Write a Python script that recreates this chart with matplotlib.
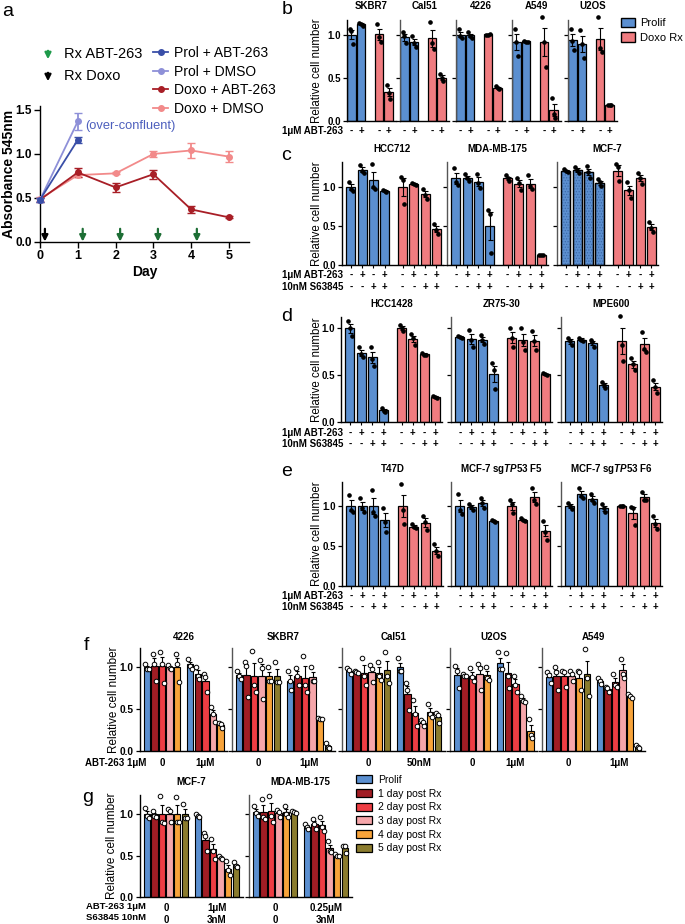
import numpy as np
import matplotlib
matplotlib.use("Agg")
import matplotlib.pyplot as plt
from matplotlib.patches import Patch
from matplotlib.lines import Line2D
from matplotlib.transforms import blended_transform_factory

plt.rcParams['font.family'] = ['Liberation Sans', 'DejaVu Sans']
plt.rcParams['mathtext.fontset'] = 'custom'
plt.rcParams['mathtext.it'] = 'Liberation Sans:italic:bold'
plt.rcParams['mathtext.rm'] = 'Liberation Sans:bold'
plt.rcParams['axes.linewidth'] = 1.0
plt.rcParams['hatch.linewidth'] = 0.6

# ---------------- data ----------------
# panel a : absorbance time course
a_days = [0, 1, 2, 3, 4, 5]
prol_days = [0, 1]
prol_abt = [0.48, 1.16]
prol_abt_err = [0.02, 0.03]
prol_dmso = [0.48, 1.37]
prol_dmso_err = [0.02, 0.10]
doxo_abt = [0.48, 0.79, 0.62, 0.77, 0.37, 0.28]
doxo_abt_err = [0.02, 0.05, 0.05, 0.05, 0.04, 0.01]
doxo_dmso = [0.49, 0.76, 0.78, 1.00, 1.04, 0.97]
doxo_dmso_err = [0.02, 0.02, 0.01, 0.03, 0.09, 0.06]
abt_rx_days = [1.13, 2.12, 3.12, 4.15]
doxo_rx_days = [0.13]

# panel b : replicates, [prolif -, prolif +] and [doxo -, doxo +]
b_lines = ["SKBR7", "Cal51", "4226", "A549", "U2OS"]
b_prolif = [
    [[1.07, 1.04, 0.89], [1.14, 1.12, 1.10]],
    [[1.03, 0.98, 0.90], [0.98, 0.90, 0.86]],
    [[1.06, 0.98, 0.96], [1.03, 0.99, 0.96]],
    [[1.07, 0.91, 0.75], [0.93, 0.92, 0.92]],
    [[1.07, 0.93, 0.82], [1.05, 0.89, 0.73]],
]
b_doxo = [
    [[1.12, 0.97, 0.92], [0.42, 0.33, 0.26]],
    [[1.15, 0.90, 0.83], [0.55, 0.50, 0.46]],
    [[1.00, 1.00, 1.01], [0.40, 0.38, 0.37]],
    [[1.20, 0.91, 0.63], [0.27, 0.08, 0.04]],
    [[1.20, 0.85, 0.80], [0.19, 0.18, 0.18]],
]
b_abt_signs = ["-", "+", "-", "+"]

# panels c-e : 4 conditions (ABT-263 / S63845) for prolif and doxo
combo_abt_signs = ["-", "+", "-", "+"] * 2
combo_s63_signs = ["-", "-", "+", "+"] * 2

c_lines = ["HCC712", "MDA-MB-175", "MCF-7"]
c_prolif = [
    [[1.07, 0.98, 0.95], [1.28, 1.21, 1.18], [1.30, 1.00, 0.97], [0.96, 0.95, 0.94]],
    [[1.24, 1.06, 1.03], [1.16, 1.12, 1.08], [1.17, 1.05, 0.99], [0.70, 0.65, 0.15]],
    [[1.23, 1.21, 1.19], [1.26, 1.22, 1.18], [1.27, 1.19, 1.12], [1.10, 1.06, 1.01]],
]
c_doxo = [
    [[1.13, 1.09, 0.78], [1.05, 1.04, 1.02], [0.98, 0.90, 0.85], [0.53, 0.45, 0.40]],
    [[1.15, 1.11, 1.08], [1.11, 1.05, 0.96], [1.15, 1.01, 0.97], [0.13, 0.13, 0.13]],
    [[1.30, 1.25, 1.08], [1.06, 0.96, 0.86], [1.18, 1.12, 1.04], [0.55, 0.48, 0.42]],
]

d_lines = ["HCC1428", "ZR75-30", "MPE600"]
d_prolif = [
    [[1.08, 1.00, 0.92], [0.80, 0.73, 0.69], [0.80, 0.67, 0.60], [0.15, 0.12, 0.11]],
    [[0.92, 0.91, 0.90], [0.98, 0.87, 0.80], [0.93, 0.88, 0.83], [0.63, 0.55, 0.35]],
    [[0.90, 0.86, 0.82], [0.90, 0.88, 0.86], [0.87, 0.85, 0.80], [0.43, 0.39, 0.36]],
]
d_doxo = [
    [[1.04, 1.00, 0.97], [0.94, 0.90, 0.82], [0.74, 0.72, 0.71], [0.28, 0.27, 0.26]],
    [[1.00, 0.90, 0.80], [1.00, 0.85, 0.77], [0.97, 0.86, 0.77], [0.52, 0.51, 0.50]],
    [[1.13, 0.82, 0.65], [0.68, 0.62, 0.55], [0.96, 0.78, 0.75], [0.45, 0.37, 0.31]],
]

e_lines = ["T47D", "MCF-7 sg$\\mathit{TP53}$ F5", "MCF-7 sg$\\mathit{TP53}$ F6"]
e_prolif = [
    [[1.14, 0.95, 0.92], [1.10, 0.97, 0.93], [1.20, 0.93, 0.87], [0.98, 0.80, 0.68]],
    [[1.15, 0.95, 0.90], [1.03, 0.99, 0.95], [1.10, 1.04, 0.98], [0.82, 0.81, 0.80]],
    [[1.04, 1.00, 0.96], [1.23, 1.12, 1.10], [1.15, 1.08, 1.04], [1.02, 0.97, 0.92]],
]
e_doxo = [
    [[1.27, 0.95, 0.78], [0.77, 0.74, 0.72], [0.88, 0.80, 0.70], [0.52, 0.44, 0.37]],
    [[1.07, 1.02, 0.91], [0.85, 0.83, 0.81], [1.23, 1.08, 1.02], [0.81, 0.68, 0.58]],
    [[1.00, 1.00, 1.00], [0.99, 0.98, 0.76], [1.18, 1.08, 1.07], [0.88, 0.78, 0.71]],
]

# panels f, g : days post Rx
conditions = ["Prolif", "1 day post Rx", "2 day post Rx", "3 day post Rx",
              "4 day post Rx", "5 day post Rx"]
cond_colors = ["#5b8fd0", "#a11d24", "#ee3d43", "#f6a6aa", "#f7a33a", "#8b7c2e"]

f_lines = ["4226", "SKBR7", "Cal51", "U2OS", "A549"]
f_doses = [["0", "1μM"], ["0", "1μM"], ["0", "50nM"], ["0", "1μM"], ["0", "1μM"]]
f_untreated = [
    [[1.04, 0.98, 0.98], [1.16, 1.04, 0.83], [1.18, 1.04, 0.81], [1.03, 0.99, 0.98], [1.16, 1.04, 0.82]],
    [[0.95, 0.90, 0.86], [1.06, 1.01, 0.64], [1.20, 0.79, 0.70], [1.09, 0.99, 0.62], [1.00, 0.84, 0.83], [1.06, 0.82, 0.82]],
    [[0.99, 0.97, 0.92], [0.96, 0.94, 0.93], [1.11, 0.90, 0.79], [1.03, 0.98, 0.82], [1.06, 0.90, 0.85], [1.18, 0.90, 0.81]],
    [[1.02, 0.95, 0.75], [0.92, 0.90, 0.89], [0.99, 0.88, 0.83], [1.04, 0.99, 0.73], [1.00, 0.87, 0.85]],
    [[0.94, 0.91, 0.81], [1.00, 0.94, 0.73], [0.96, 0.94, 0.77], [0.95, 0.92, 0.83], [0.96, 0.94, 0.73], [1.22, 0.87, 0.66]],
]
f_treated = [
    [[1.10, 1.02, 0.98], [1.00, 0.90, 0.86], [0.92, 0.88, 0.71], [0.52, 0.44, 0.35], [0.34, 0.32, 0.28]],
    [[0.95, 0.84, 0.73], [0.99, 0.90, 0.79], [1.14, 0.79, 0.70], [1.00, 0.83, 0.83], [0.39, 0.38, 0.38], [0.09, 0.05, 0.04]],
    [[1.11, 0.95, 0.95], [0.81, 0.73, 0.49], [0.61, 0.44, 0.30], [0.37, 0.35, 0.30], [0.56, 0.44, 0.41], [0.45, 0.43, 0.33]],
    [[1.18, 0.98, 0.98], [1.17, 0.89, 0.75], [0.90, 0.79, 0.70], [0.66, 0.60, 0.58], [0.38, 0.19, 0.16]],
    [[0.87, 0.84, 0.80], [0.77, 0.75, 0.71], [0.92, 0.79, 0.77], [1.10, 0.92, 0.87], [0.68, 0.66, 0.63], [0.07, 0.05, 0.04]],
]

g_lines = ["MCF-7", "MDA-MB-175"]
g_abt_doses = [["0", "1μM"], ["0", "0.25μM"]]
g_s63_doses = [["0", "3nM"], ["0", "3nM"]]
g_untreated = [
    [[1.07, 0.98, 0.95], [1.04, 0.98, 0.97], [1.22, 0.90, 0.89], [1.06, 1.04, 0.90], [1.21, 0.91, 0.90], [1.12, 0.95, 0.95]],
    [[1.10, 1.01, 0.98], [1.18, 0.96, 0.94], [1.22, 0.98, 0.90], [1.05, 1.02, 0.97], [1.10, 1.00, 0.97], [1.04, 1.02, 1.01]],
]
g_treated = [
    [[1.00, 0.98, 0.96], [0.77, 0.74, 0.55], [0.70, 0.56, 0.46], [0.49, 0.47, 0.46], [0.43, 0.32, 0.27], [0.42, 0.37, 0.36]],
    [[0.88, 0.85, 0.82], [0.94, 0.88, 0.82], [0.96, 0.85, 0.80], [0.67, 0.56, 0.54], [0.52, 0.50, 0.49], [0.62, 0.62, 0.53]],
]

# ---------------- figure ----------------
W, H = 685, 924
fig = plt.figure(figsize=(W / 100, H / 100), dpi=100)
BLUE = "#5b8fd0"
RED = "#f07c80"


def px_axes(left, top, width, height):
    return fig.add_axes([left / W, 1 - (top + height) / H, width / W, height / H])


def fy(y):
    return 1 - y / H


def style(ax, first, ylim, yticks=(0, 0.5, 1.0), fs=6.5):
    ax.spines['top'].set_visible(False)
    ax.spines['right'].set_visible(False)
    ax.set_ylim(*ylim)
    ax.set_yticks(yticks)
    ax.tick_params(axis='y', direction='out', length=3, width=0.9, pad=1.5)
    if first:
        ax.set_yticklabels([f"{t:.1f}" for t in yticks], fontsize=fs, fontweight='bold')
    else:
        ax.set_yticklabels([])
        ax.spines['left'].set_color('#555555')


def panel_label(x, y, s):
    fig.text(x / W, fy(y), s, fontsize=14, va='center', ha='left')


def sem(reps):
    reps = np.asarray(reps)
    return reps.mean(1), reps.std(1, ddof=1) / np.sqrt(reps.shape[1])


jit = np.array([-0.2, 0.0, 0.2])


def bars_with_dots(ax, pos, reps, colors, width, hatch_mask=None):
    m, s = sem(reps)
    ax.bar(pos, m, width, color=colors, edgecolor='k', linewidth=0.9, zorder=1)
    if hatch_mask is not None:
        for p, mm, h in zip(pos, m, hatch_mask):
            if h:
                ax.bar(p, mm, width, facecolor='none', edgecolor='#3d6aa8',
                       hatch='......', linewidth=0, zorder=1.5)
                ax.bar(p, mm, width, facecolor='none', edgecolor='k',
                       linewidth=0.9, zorder=1.6)
    ax.errorbar(pos, m, yerr=s, fmt='none', ecolor='k', elinewidth=0.8,
                capsize=1.8, capthick=0.8, zorder=3)
    xs = (np.asarray(pos)[:, None] + jit[None, :] * width).ravel()
    ax.plot(xs, np.asarray(reps).ravel(), 'o', ms=2.3, color='k', zorder=4,
            clip_on=False)


def sign_row(ax, pos, signs, y):
    tr = blended_transform_factory(ax.transData, fig.transFigure)
    for p, s in zip(pos, signs):
        ax.text(p, fy(y), s, transform=tr, ha='center', va='center',
                fontsize=7, fontweight='bold')


# ---------- panel a ----------
panel_label(2, 12, "a")
ax = px_axes(40, 106, 209, 136)
ax.spines['top'].set_visible(False)
ax.spines['right'].set_visible(False)
ax.errorbar(a_days, doxo_dmso, yerr=doxo_dmso_err, color="#f28a8a", marker='o',
            ms=4, lw=1.3, capsize=3, capthick=1, clip_on=False, zorder=3)
ax.errorbar(a_days, doxo_abt, yerr=doxo_abt_err, color="#a81e26", marker='o',
            ms=4, lw=1.3, capsize=3, capthick=1, clip_on=False, zorder=3)
ax.errorbar(prol_days, prol_dmso, yerr=prol_dmso_err, color="#8e90d8", marker='o',
            ms=4, lw=1.3, capsize=3, capthick=1, clip_on=False, zorder=4)
ax.errorbar(prol_days, prol_abt, yerr=prol_abt_err, color="#3a4fa8", marker='o',
            ms=4, lw=1.3, capsize=3, capthick=1, clip_on=False, zorder=4)
for d in abt_rx_days:
    ax.annotate('', xy=(d, 0.005), xytext=(d, 0.15),
                arrowprops=dict(arrowstyle='-|>', color='#1d6e35', lw=1.6,
                                mutation_scale=9, shrinkA=0, shrinkB=0))
for d in doxo_rx_days:
    ax.annotate('', xy=(d, 0.005), xytext=(d, 0.15),
                arrowprops=dict(arrowstyle='-|>', color='k', lw=1.6,
                                mutation_scale=9, shrinkA=0, shrinkB=0))
ax.text(1.19, 1.32, "(over-confluent)", color="#4d5fbd", fontsize=9.3,
        va='center', ha='left')
ax.set_xlim(0, 5.53)
ax.set_ylim(0, 1.545)
ax.set_xticks(a_days)
ax.set_xticklabels([str(d) for d in a_days], fontsize=9, fontweight='bold')
ax.set_yticks([0, 0.5, 1.0, 1.5])
ax.set_yticklabels(["0.0", "0.5", "1.0", "1.5"], fontsize=8.5, fontweight='bold')
ax.tick_params(direction='out', length=4, width=1, pad=2)
ax.set_xlabel("Day", fontsize=10, fontweight='bold', labelpad=2)
ax.set_ylabel("Absorbance 545nm", fontsize=10, fontweight='bold')
ax.yaxis.set_label_coords((16 - 40) / 209, 0.5)

# arrow legend
for y0, col, lab in ((48, '#1e9a4a', "Rx ABT-263"), (70, 'k', "Rx Doxo")):
    fig.add_artist(matplotlib.patches.FancyArrowPatch(
        (48 / W, fy(y0)), (48 / W, fy(y0 + 14)), transform=fig.transFigure,
        arrowstyle='-|>', color=col, lw=1.6, mutation_scale=9))
    fig.text(64 / W, fy(y0 + 6), lab, fontsize=10.5, va='center', ha='left')

a_handles = [Line2D([], [], color=c, marker='o', ms=4, lw=1.3)
             for c in ("#3a4fa8", "#8e90d8", "#a81e26", "#f28a8a")]
fig.legend(a_handles, ["Prol + ABT-263", "Prol + DMSO", "Doxo + ABT-263", "Doxo + DMSO"],
           loc='upper left', bbox_to_anchor=(153 / W, fy(46)), frameon=False,
           fontsize=10, handlelength=1.1, handletextpad=0.4, labelspacing=0.33,
           borderpad=0, borderaxespad=0)

# ---------- panel b ----------
panel_label(282, 10, "b")
b_pos = [0, 1, 2.85, 3.85]
b_lefts = [347, 400, 456, 512, 568]
for i, name in enumerate(b_lines):
    ax = px_axes(b_lefts[i], 20, 49, 101)
    reps = b_prolif[i] + b_doxo[i]
    bars_with_dots(ax, b_pos, reps, [BLUE, BLUE, RED, RED], 0.88)
    ax.set_xlim(-0.45, 4.6)
    style(ax, i == 0, (0, 1.17), fs=7)
    ax.set_xticks(b_pos)
    ax.set_xticklabels([])
    ax.tick_params(axis='x', length=0)
    ax.set_title(name, fontsize=7, fontweight='bold', pad=8)
    sign_row(ax, b_pos, b_abt_signs, 131)
    if i == 0:
        ax.set_ylabel("Relative cell number", fontsize=8.3)
        ax.yaxis.set_label_coords((323 - 347) / 49, 0.5)
fig.text(343 / W, fy(131), "1μM ABT-263", fontsize=7, fontweight='bold',
         ha='right', va='center')
fig.legend([Patch(facecolor=BLUE, edgecolor='k', lw=1), Patch(facecolor=RED, edgecolor='k', lw=1)],
           ["Prolif", "Doxo Rx"], loc='upper left', bbox_to_anchor=(621 / W, fy(18)),
           frameon=False, fontsize=8, handlelength=1.3, handleheight=0.9,
           labelspacing=0.35, handletextpad=0.4, borderpad=0, borderaxespad=0)

# ---------- panels c, d, e ----------
combo_pos = [0, 1, 2, 3, 4.6, 5.6, 6.6, 7.6]
combo_colors = [BLUE] * 4 + [RED] * 4


def combo_row(label, label_y, lines, prolif, doxo, lefts, top, height, ylim,
              row1, row2, hatch_idx=None):
    panel_label(281, label_y, label)
    for i, name in enumerate(lines):
        ax = px_axes(lefts[i], top, 101, height)
        mask = [j < 4 and i == hatch_idx for j in range(8)]
        bars_with_dots(ax, combo_pos, prolif[i] + doxo[i], combo_colors, 0.8,
                       hatch_mask=mask if hatch_idx is not None else None)
        ax.set_xlim(-0.8, 8.2)
        style(ax, i == 0, ylim, fs=7)
        ax.set_xticks(combo_pos)
        ax.set_xticklabels([])
        ax.tick_params(axis='x', direction='out', length=2.5, width=0.8)
        ax.set_title(name, fontsize=7, fontweight='bold', pad=7)
        sign_row(ax, combo_pos, combo_abt_signs, row1)
        sign_row(ax, combo_pos, combo_s63_signs, row2)
        if i == 0:
            ax.set_ylabel("Relative cell number", fontsize=8.3)
            ax.yaxis.set_label_coords((323 - lefts[0]) / 101, 0.5)
    fig.text(343 / W, fy(row1), "1μM ABT-263", fontsize=7, fontweight='bold',
             ha='right', va='center')
    fig.text(343 / W, fy(row2), "10nM S63845", fontsize=7, fontweight='bold',
             ha='right', va='center')


combo_row("c", 156, c_lines, c_prolif, c_doxo, [342, 447, 557], 162, 103,
          (0, 1.32), 275, 287, hatch_idx=2)
combo_row("d", 316, d_lines, d_prolif, d_doxo, [341, 451, 561], 317, 105,
          (0, 1.12), 433, 444)
combo_row("e", 471, e_lines, e_prolif, e_doxo, [342, 451, 561], 482, 104,
          (0, 1.3), 596, 607)

# ---------- panels f, g ----------
UNIT = 7.6
ojit = np.array([-0.22, 0.0, 0.22])


def time_panel(ax, zero, treated):
    n = len(zero)
    groups = (np.arange(n), np.arange(n) + n + 0.7)
    for pos, reps in zip(groups, (zero, treated)):
        m, s = sem(reps)
        ax.bar(pos, m, 0.85, color=cond_colors[:n], edgecolor='k', linewidth=0.8, zorder=1)
        ax.errorbar(pos, m, yerr=[np.zeros(n), s], fmt='none', ecolor='k',
                    elinewidth=0.8, capsize=1.6, capthick=0.8, zorder=3)
        xs = (pos[:, None] + ojit[None, :]).ravel()
        ax.plot(xs, np.asarray(reps).ravel(), 'o', ms=3.3, mfc='white', mec='k',
                mew=0.7, zorder=4, clip_on=False)
    ax.set_xlim(-0.9, 2 * n - 0.3 + 0.9)
    return [groups[0].mean(), groups[1].mean()]


panel_label(84, 645, "f")
f_lefts = [140, 232, 342, 450, 542]
for i, name in enumerate(f_lines):
    n = len(f_untreated[i])
    wpx = (2 * n + 1.5) * UNIT
    ax = px_axes(f_lefts[i], 648, wpx, 103)
    centers = time_panel(ax, f_untreated[i], f_treated[i])
    style(ax, i == 0, (0, 1.23), fs=7.3)
    ax.set_xticks(centers)
    ax.set_xticklabels(f_doses[i], fontsize=7, fontweight='bold')
    ax.tick_params(axis='x', length=0, pad=5)
    ax.set_title(name, fontsize=7, fontweight='bold', pad=6)
    if i == 0:
        ax.set_ylabel("Relative cell number", fontsize=8.5)
        ax.yaxis.set_label_coords((120 - 140) / wpx, 0.5)
fig.text(146 / W, fy(763), "ABT-263 1μM", fontsize=7, fontweight='bold',
         ha='right', va='center')

panel_label(82, 797, "g")
g_lefts = [140, 249]
for i, name in enumerate(g_lines):
    n = len(g_untreated[i])
    wpx = (2 * n + 1.5) * UNIT
    ax = px_axes(g_lefts[i], 795, wpx, 102)
    centers = time_panel(ax, g_untreated[i], g_treated[i])
    style(ax, i == 0, (0, 1.23), fs=7.3)
    ax.set_xticks(centers)
    ax.set_xticklabels([f"{a}\n{s}" for a, s in zip(g_abt_doses[i], g_s63_doses[i])],
                       fontsize=7, fontweight='bold', linespacing=1.25)
    ax.tick_params(axis='x', length=0, pad=4)
    ax.set_title(name, fontsize=7, fontweight='bold', pad=7)
    if i == 0:
        ax.set_ylabel("Relative cell number", fontsize=8.5)
        ax.yaxis.set_label_coords((118 - 140) / wpx, 0.5)
fig.text(146 / W, fy(906.5), "ABT-263 1μM", fontsize=6.8, fontweight='bold',
         ha='right', va='center')
fig.text(146 / W, fy(918), "S63845 10nM", fontsize=6.8, fontweight='bold',
         ha='right', va='center')

fig.legend([Patch(facecolor=c, edgecolor='k', lw=0.9) for c in cond_colors], conditions,
           loc='upper left', bbox_to_anchor=(356 / W, fy(775)), frameon=False,
           fontsize=7.5, handlelength=1.5, handleheight=0.8, labelspacing=0.35,
           handletextpad=0.6, borderpad=0, borderaxespad=0)

fig.savefig("out.png", dpi=100)
